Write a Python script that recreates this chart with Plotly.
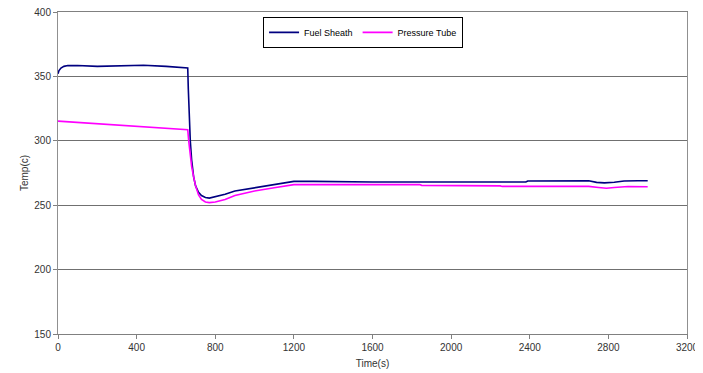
import plotly.graph_objects as go

fuel_t = [0, 5, 15, 30, 50, 100, 200, 300, 435, 550, 640, 660, 663, 668, 673, 680, 690, 700, 715, 730, 750,
          770, 800, 850, 900, 1000, 1100, 1200, 1300, 1400, 1450, 1600, 2000, 2380, 2390, 2700, 2740, 2780,
          2830, 2880, 2950, 3000]
fuel_v = [352, 354.5, 356.5, 357.8, 358.4, 358.5, 357.8, 358.2, 358.7, 357.8, 357, 356.5, 340, 315, 300, 285,
          272, 265, 260, 257.5, 256, 255.5, 256.5, 258.5, 261, 263.5, 266, 268.5, 268.5, 268.3, 268, 268, 268,
          268, 268.8, 269, 267.7, 267.3, 267.8, 268.8, 269, 269]

tube_t = [0, 100, 200, 300, 400, 500, 600, 660, 665, 672, 680, 690, 700, 715, 730, 750, 770, 800, 850, 900,
          1000, 1100, 1200, 1500, 1840, 1850, 2010, 2020, 2250, 2260, 2700, 2750, 2790, 2830, 2900, 3000]
tube_v = [315.3, 314.3, 313.3, 312.5, 311.5, 310.3, 309.3, 308.6, 300, 290, 280, 272, 265, 258, 254.5, 252.5,
          252, 252.5, 254.5, 257.5, 261, 263.5, 266, 266, 266, 265.4, 265.4, 265, 265, 264.6, 264.6, 263.8,
          263.2, 263.8, 264.5, 264.3]

x_ticks = [0, 400, 800, 1200, 1600, 2000, 2400, 2800, 3200]
y_ticks = [150, 200, 250, 300, 350, 400]

fig = go.Figure()
fig.add_trace(go.Scatter(x=fuel_t, y=fuel_v, mode="lines", name="Fuel Sheath",
                         line=dict(color="#000080", width=1.6)))
fig.add_trace(go.Scatter(x=tube_t, y=tube_v, mode="lines", name="Pressure Tube",
                         line=dict(color="#FF00FF", width=1.6)))

font = dict(family="Liberation Sans, Arial, sans-serif", size=10, color="#333333")
fig.update_layout(
    width=695, height=365,
    margin=dict(l=50, r=16, t=4, b=39),
    paper_bgcolor="white", plot_bgcolor="white",
    font=font,
    showlegend=True,
    legend=dict(orientation="h", x=0.485, y=0.985, xanchor="center", yanchor="top",
                bordercolor="#000000", borderwidth=1, bgcolor="white",
                font=dict(family="Liberation Sans, Arial, sans-serif", size=9, color="#000000"),
                itemwidth=30, tracegroupgap=0),
    xaxis=dict(range=[0, 3200], tickvals=x_ticks, ticktext=[str(v) for v in x_ticks],
               showgrid=False, zeroline=False, showline=True, linecolor="#808080", linewidth=1,
               mirror=True, ticks="outside", ticklen=4, tickcolor="#808080", automargin=False,
               ticklabeloverflow="allow",
               title=dict(text="Time(s)", standoff=7, font=dict(size=10, color="#333333"))),
    yaxis=dict(range=[150, 400], tickvals=y_ticks, ticktext=[str(v) for v in y_ticks],
               showgrid=True, gridcolor="#707070", gridwidth=1, zeroline=False,
               showline=True, linecolor="#909090", linewidth=1, mirror=True, automargin=False,
               ticks="outside", ticklen=4, tickcolor="#808080", ticklabeloverflow="allow",
               title=dict(text="Temp(c)", standoff=3, font=dict(size=10, color="#333333"))),
)

fig.write_html("out.html")
